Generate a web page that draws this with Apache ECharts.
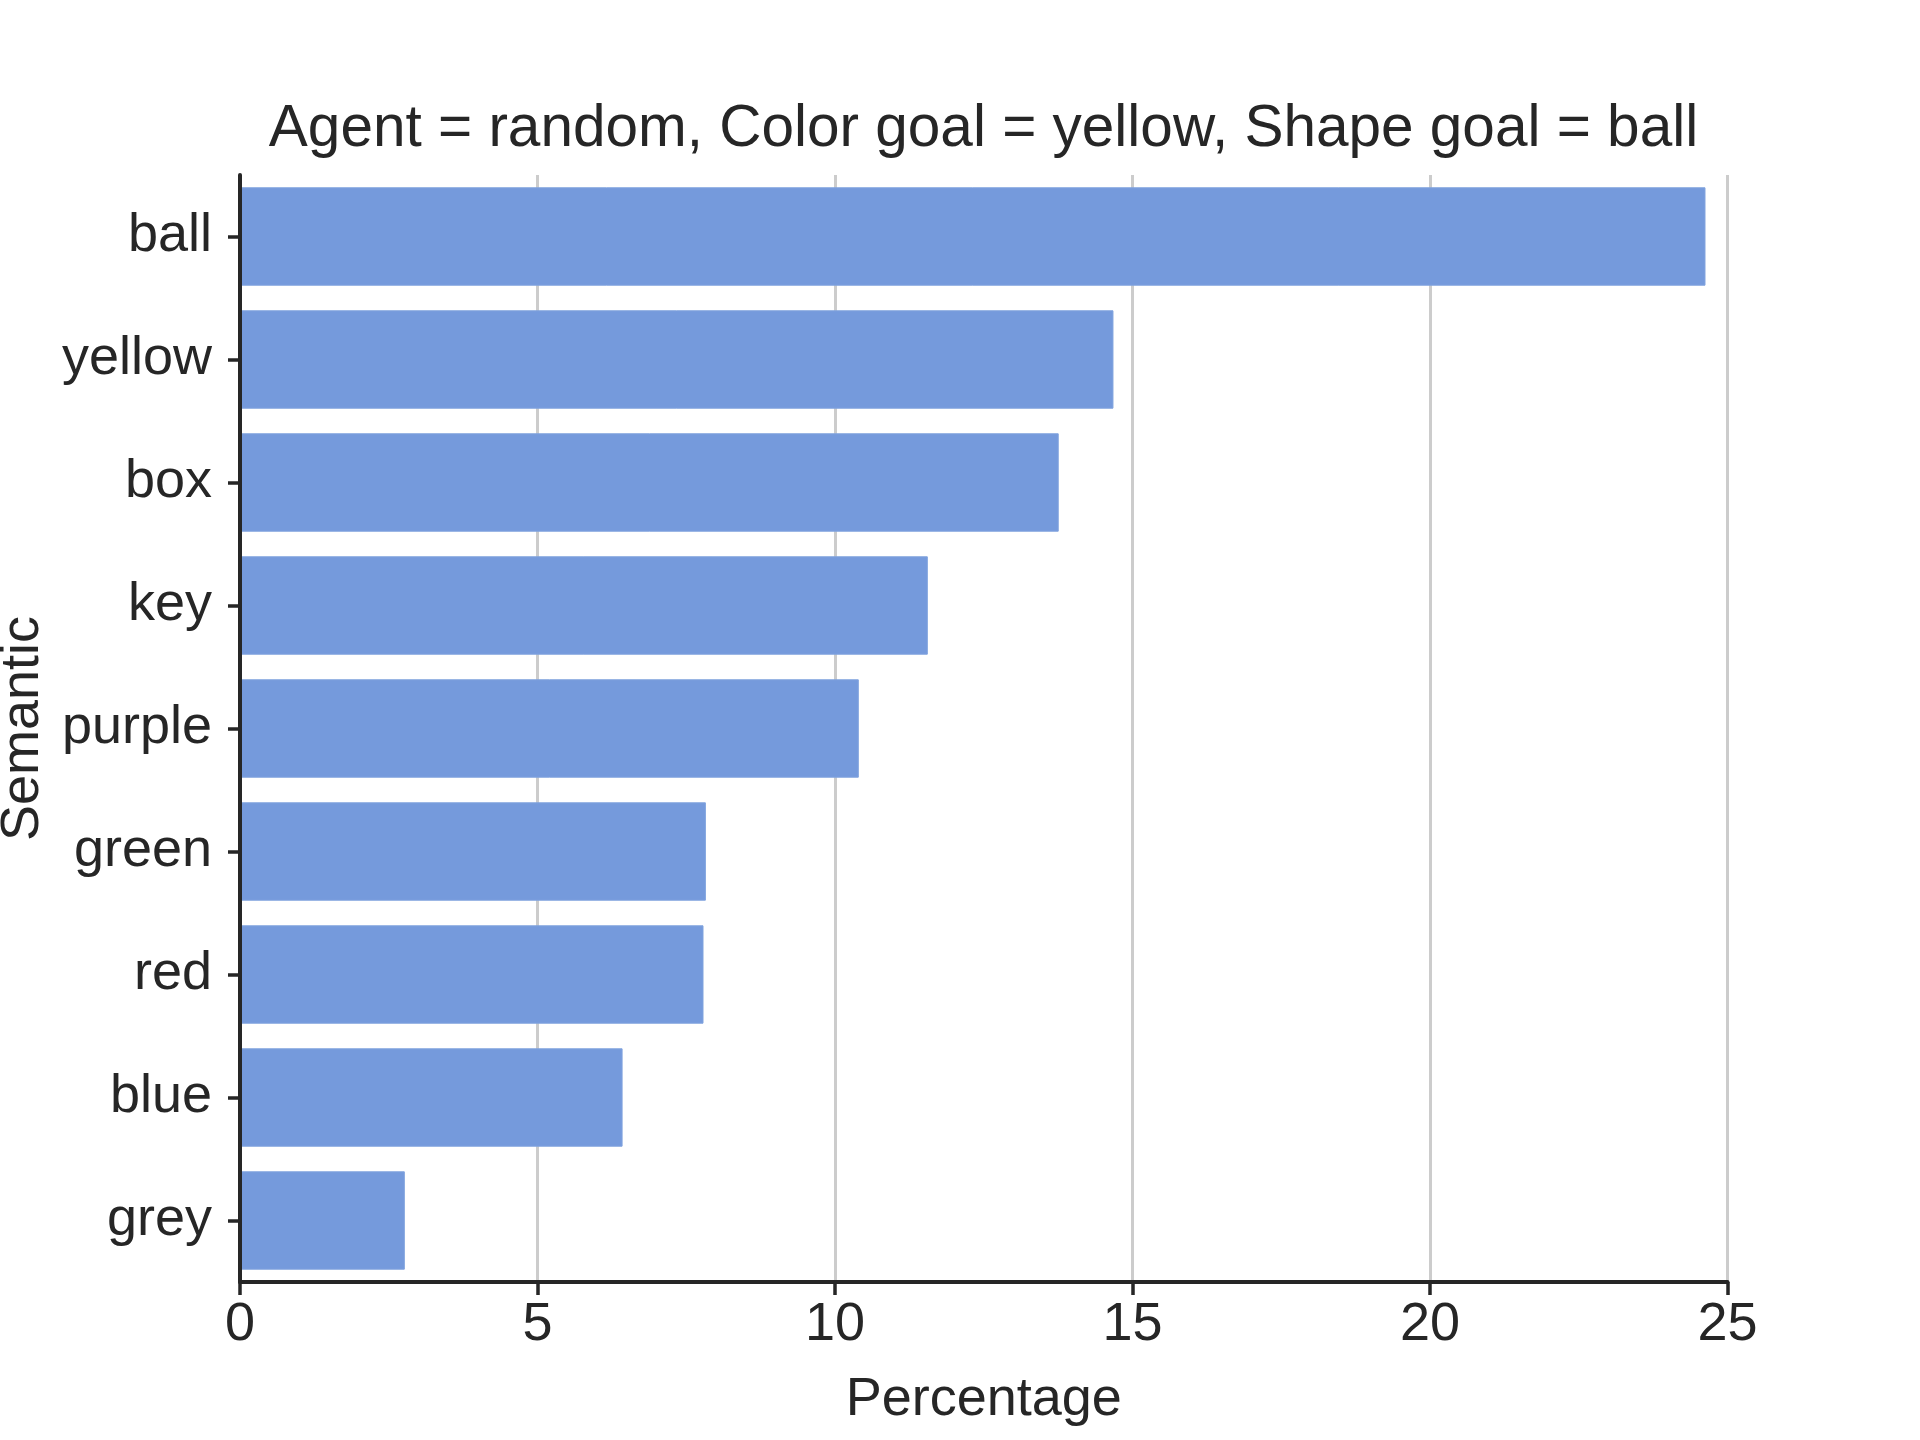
<!DOCTYPE html>
<html>
<head>
<meta charset="utf-8">
<script src="https://cdn.jsdelivr.net/npm/echarts@6/dist/echarts.min.js"></script>
<style>
html,body{margin:0;padding:0;background:#fff;}
#chart{width:1920px;height:1440px;}
</style>
</head>
<body>
<div id="chart"></div>
<script>
const titleText = 'Agent = random, Color goal = yellow, Shape goal = ball';
const categories = ['ball', 'yellow', 'box', 'key', 'purple', 'green', 'red', 'blue', 'grey'];
const percentages = [24.63, 14.68, 13.76, 11.56, 10.40, 7.83, 7.79, 6.43, 2.77];
const xTicks = [0, 5, 10, 15, 20, 25];
const xLabel = 'Percentage';
const yLabel = 'Semantic';

const FONT = '"Liberation Sans", Arial, Helvetica, sans-serif';
const INK = '#262626';

const chart = echarts.init(document.getElementById('chart'), null, {renderer: 'canvas'});
chart.setOption({
  backgroundColor: '#ffffff',
  animation: false,
  title: {
    text: titleText,
    left: 983.5,
    textAlign: 'center',
    top: 101,
    padding: 0,
    textStyle: {fontFamily: FONT, fontSize: 58.5, fontWeight: 'normal', color: INK, lineHeight: 58.5}
  },
  grid: {left: 240, right: 192.5, top: 175, bottom: 158, containLabel: false, outerBoundsMode: 'none'},
  xAxis: {
    type: 'value',
    min: xTicks[0],
    max: xTicks[xTicks.length - 1],
    interval: xTicks[1] - xTicks[0],
    name: xLabel,
    nameLocation: 'middle',
    nameGap: 91,
    nameTextStyle: {fontFamily: FONT, fontSize: 54, color: INK},
    axisLine: {show: true, lineStyle: {color: INK, width: 4}},
    axisTick: {show: true, length: 13, lineStyle: {color: INK, width: 3.5}},
    axisLabel: {fontFamily: FONT, fontSize: 54, color: INK, margin: 16},
    splitLine: {show: true, lineStyle: {color: '#cccccc', width: 3}}
  },
  yAxis: {
    type: 'category',
    data: categories,
    inverse: true,
    z: 5,
    name: yLabel,
    nameLocation: 'middle',
    nameGap: 190,
    nameTextStyle: {fontFamily: FONT, fontSize: 54, color: INK},
    axisLine: {show: true, lineStyle: {color: INK, width: 4}},
    axisTick: {show: true, alignWithLabel: true, length: 12, lineStyle: {color: INK, width: 3.5}},
    axisLabel: {fontFamily: FONT, fontSize: 54, color: INK, margin: 28},
    splitLine: {show: false}
  },
  series: [{
    type: 'bar',
    data: percentages,
    barCategoryGap: '20%',
    itemStyle: {color: '#759adc', borderColor: '#80a3de', borderWidth: 1}
  }]
});
</script>
</body>
</html>
